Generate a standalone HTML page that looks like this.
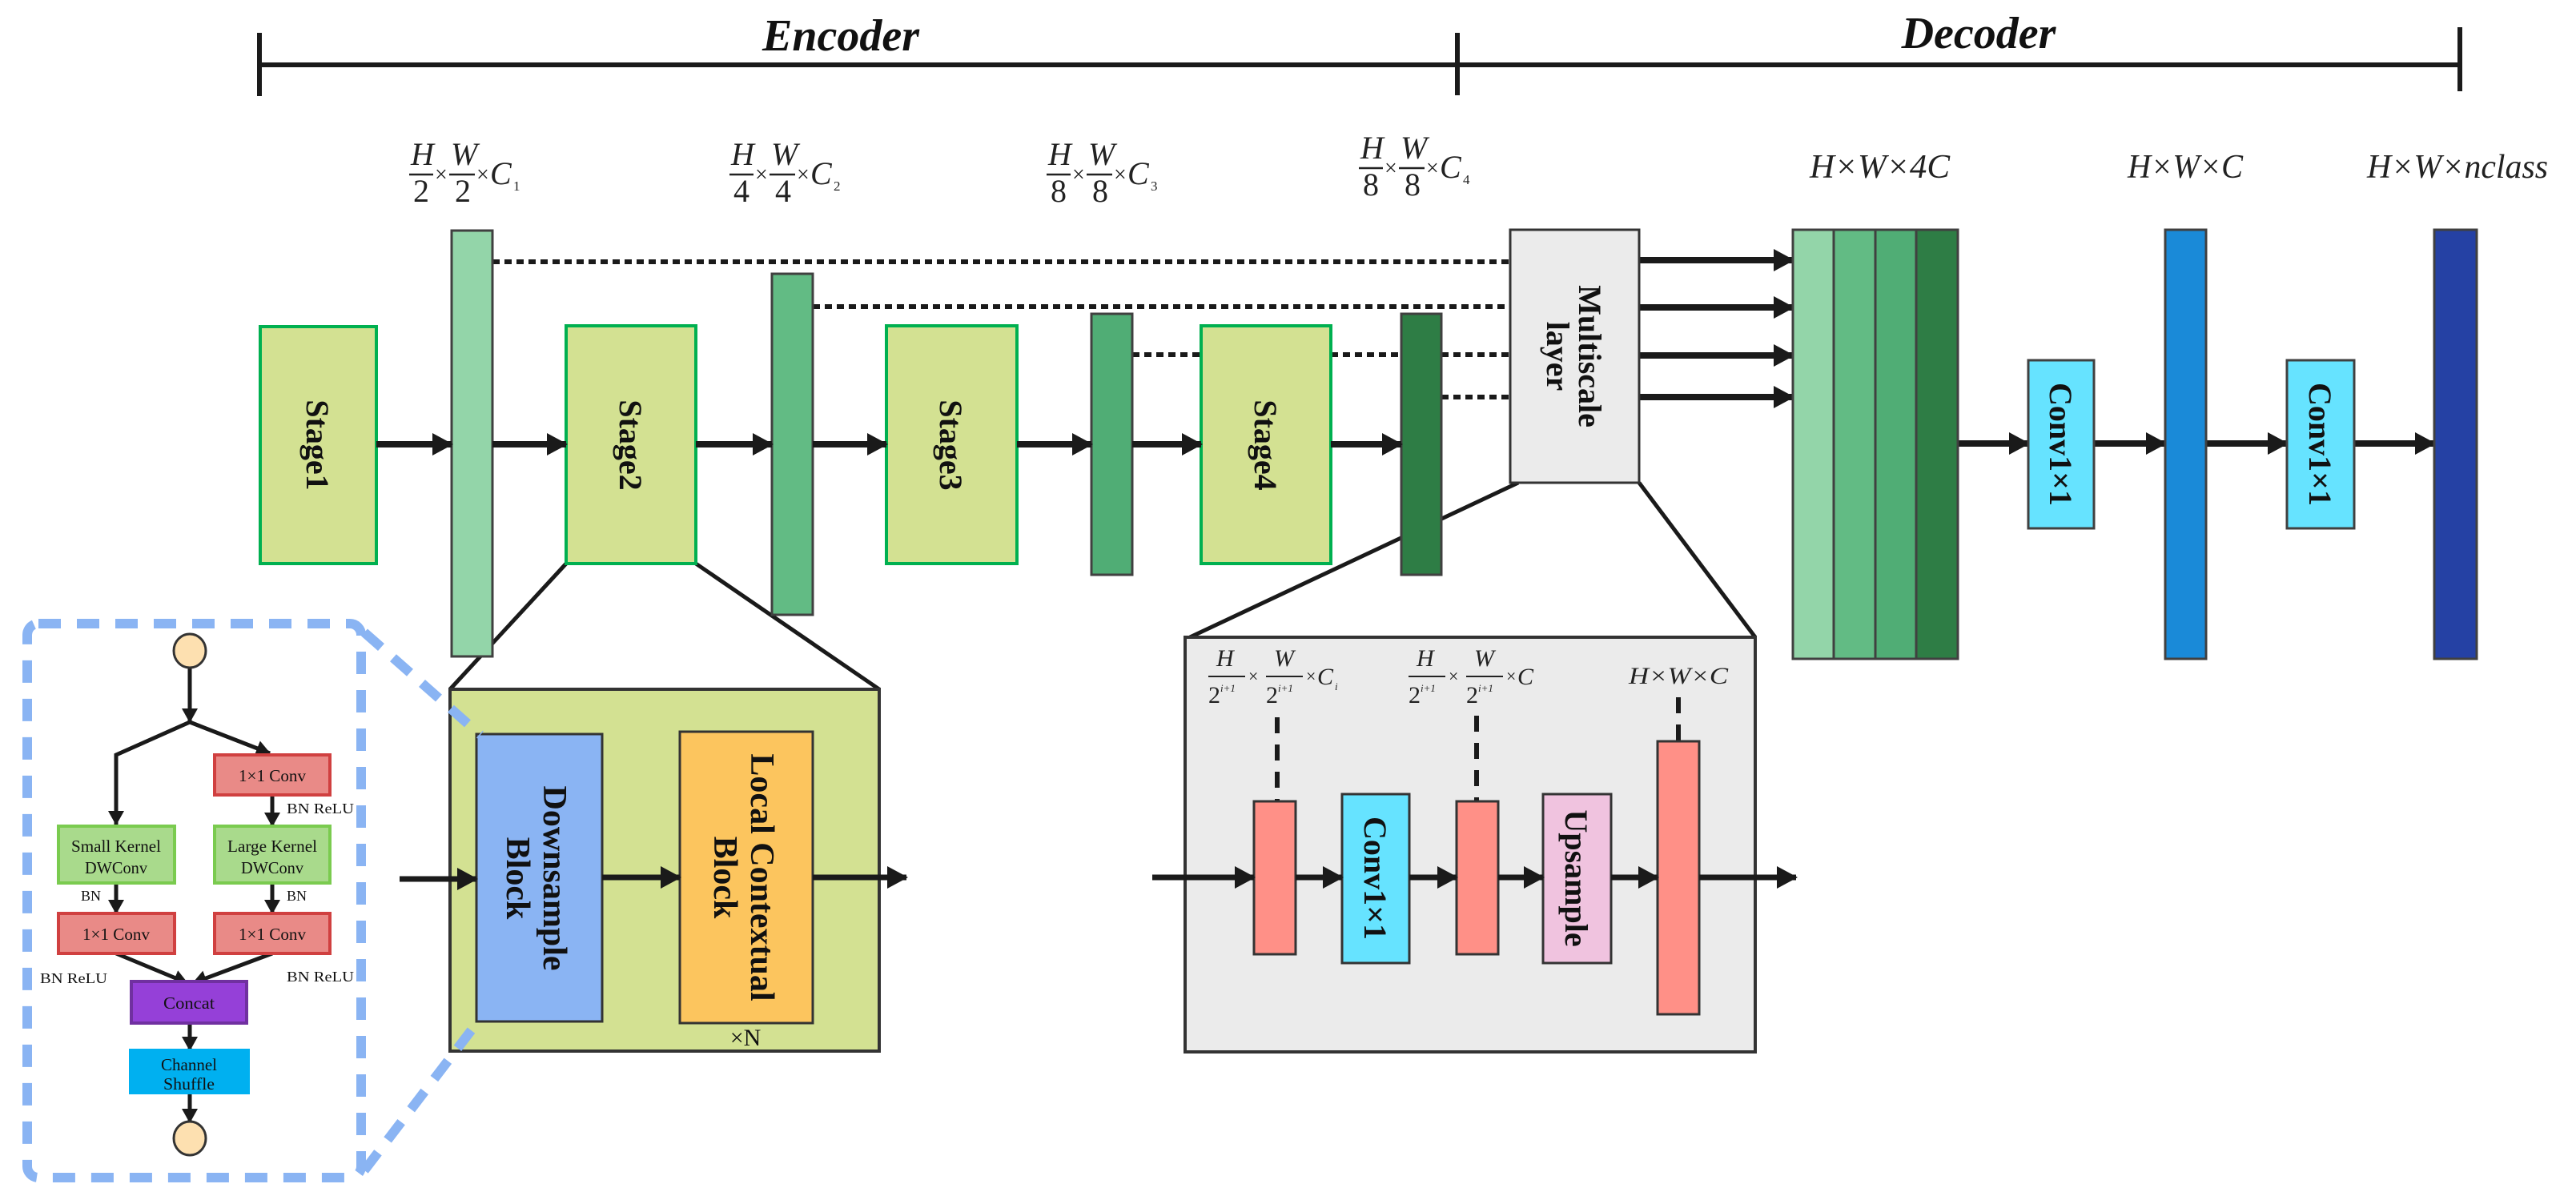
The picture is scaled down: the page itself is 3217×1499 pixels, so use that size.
<!DOCTYPE html>
<html><head><meta charset="utf-8"><style>
html,body{margin:0;padding:0;background:#fff;}
svg{display:block;}
text{font-family:"Liberation Serif",serif;}
.it{font-style:italic;}
.b{font-weight:bold;}
</style></head><body>
<svg width="3217" height="1499" viewBox="0 0 3217 1499" xmlns="http://www.w3.org/2000/svg">
<defs>
<marker id="ah" markerUnits="userSpaceOnUse" markerWidth="26" markerHeight="28" refX="24" refY="14" orient="auto"><polygon points="0,0 26,14 0,28" fill="#1a1a1a"/></marker>
<marker id="as" markerUnits="userSpaceOnUse" markerWidth="18" markerHeight="20" refX="17" refY="10" orient="auto"><polygon points="0,0 18,10 0,20" fill="#1a1a1a"/></marker>
</defs>

<g stroke="#1a1a1a" stroke-width="6">
<line x1="324" y1="81" x2="3072" y2="81"/>
<line x1="324" y1="41" x2="324" y2="120"/>
<line x1="1820" y1="41" x2="1820" y2="119"/>
<line x1="3072" y1="34" x2="3072" y2="114"/>
</g>
<text x="1050" y="63" font-size="56" class="it b" text-anchor="middle" fill="#111">Encoder</text>
<text x="2471" y="60" font-size="56" class="it b" text-anchor="middle" fill="#111">Decoder</text>

<g fill="#222" font-size="40">
<g transform="translate(511,0)">
<text x="2" y="206" class="it">H</text><line x1="0" y1="218" x2="30" y2="218" stroke="#222" stroke-width="2.5"/><text x="5" y="252">2</text>
<text x="32" y="227" font-size="28">×</text>
<text x="52" y="206" class="it">W</text><line x1="50" y1="218" x2="82" y2="218" stroke="#222" stroke-width="2.5"/><text x="57" y="252">2</text>
<text x="84" y="227" font-size="28">×</text><text x="101" y="230" class="it">C</text><text x="130" y="238" font-size="17">1</text></g>
<g transform="translate(911,0)">
<text x="2" y="206" class="it">H</text><line x1="0" y1="218" x2="30" y2="218" stroke="#222" stroke-width="2.5"/><text x="5" y="252">4</text>
<text x="32" y="227" font-size="28">×</text>
<text x="52" y="206" class="it">W</text><line x1="50" y1="218" x2="82" y2="218" stroke="#222" stroke-width="2.5"/><text x="57" y="252">4</text>
<text x="84" y="227" font-size="28">×</text><text x="101" y="230" class="it">C</text><text x="130" y="238" font-size="17">2</text></g>
<g transform="translate(1307,0)">
<text x="2" y="206" class="it">H</text><line x1="0" y1="218" x2="30" y2="218" stroke="#222" stroke-width="2.5"/><text x="5" y="252">8</text>
<text x="32" y="227" font-size="28">×</text>
<text x="52" y="206" class="it">W</text><line x1="50" y1="218" x2="82" y2="218" stroke="#222" stroke-width="2.5"/><text x="57" y="252">8</text>
<text x="84" y="227" font-size="28">×</text><text x="101" y="230" class="it">C</text><text x="130" y="238" font-size="17">3</text></g>
<g transform="translate(1697,-8)">
<text x="2" y="206" class="it">H</text><line x1="0" y1="218" x2="30" y2="218" stroke="#222" stroke-width="2.5"/><text x="5" y="252">8</text>
<text x="32" y="227" font-size="28">×</text>
<text x="52" y="206" class="it">W</text><line x1="50" y1="218" x2="82" y2="218" stroke="#222" stroke-width="2.5"/><text x="57" y="252">8</text>
<text x="84" y="227" font-size="28">×</text><text x="101" y="230" class="it">C</text><text x="130" y="238" font-size="17">4</text></g>
<text x="2260" y="222" font-size="42" class="it" textLength="175" lengthAdjust="spacingAndGlyphs">H×W×4C</text>
<text x="2657" y="222" font-size="42" class="it" textLength="144" lengthAdjust="spacingAndGlyphs">H×W×C</text>
<text x="2956" y="222" font-size="42" class="it" textLength="226" lengthAdjust="spacingAndGlyphs">H×W×nclass</text>
</g>

<g stroke="#1a1a1a" stroke-width="5" fill="none">
<line x1="707" y1="704" x2="562" y2="861"/>
<line x1="869" y1="704" x2="1098" y2="861"/>
<line x1="1896" y1="603" x2="1486" y2="796"/>
<line x1="2047" y1="603" x2="2192" y2="796"/>
</g>

<g stroke="#1a1a1a" stroke-width="6" stroke-dasharray="9 6">
<line x1="615" y1="327" x2="1886" y2="327"/>
<line x1="1015" y1="383" x2="1886" y2="383"/>
<line x1="1414" y1="443" x2="1500" y2="443"/>
<line x1="1662" y1="443" x2="1750" y2="443"/>
<line x1="1800" y1="443" x2="1886" y2="443"/>
<line x1="1800" y1="496" x2="1886" y2="496"/>
</g>

<g fill="#d3e192" stroke="#00b050" stroke-width="4">
<rect x="325" y="408" width="145" height="296"/>
<rect x="707" y="407" width="162" height="297"/>
<rect x="1107" y="407" width="163" height="297"/>
<rect x="1500" y="407" width="162" height="297"/>
</g>
<g font-size="40" class="b" fill="#111" text-anchor="middle">
<text transform="translate(397,556) rotate(90)" y="14">Stage1</text>
<text transform="translate(788,556) rotate(90)" y="14">Stage2</text>
<text transform="translate(1188,556) rotate(90)" y="14">Stage3</text>
<text transform="translate(1581,556) rotate(90)" y="14">Stage4</text>
</g>

<g stroke="#404040" stroke-width="3">
<rect x="564" y="288" width="51" height="532" fill="#93d5a9"/>
<rect x="964" y="342" width="51" height="426" fill="#62bb84"/>
<rect x="1363" y="392" width="51" height="326" fill="#50ad75"/>
<rect x="1750" y="392" width="50" height="326" fill="#2e7d45"/>
</g>

<g stroke="#1a1a1a" stroke-width="8" marker-end="url(#ah)">
<line x1="470" y1="555" x2="564" y2="555"/>
<line x1="615" y1="555" x2="707" y2="555"/>
<line x1="869" y1="555" x2="964" y2="555"/>
<line x1="1015" y1="555" x2="1107" y2="555"/>
<line x1="1270" y1="555" x2="1363" y2="555"/>
<line x1="1414" y1="555" x2="1500" y2="555"/>
<line x1="1662" y1="555" x2="1750" y2="555"/>
<line x1="2047" y1="325" x2="2239" y2="325"/>
<line x1="2047" y1="384" x2="2239" y2="384"/>
<line x1="2047" y1="444" x2="2239" y2="444"/>
<line x1="2047" y1="496" x2="2239" y2="496"/>
<line x1="2445" y1="554" x2="2533" y2="554"/>
<line x1="2615" y1="554" x2="2704" y2="554"/>
<line x1="2755" y1="554" x2="2856" y2="554"/>
<line x1="2940" y1="554" x2="3040" y2="554"/>
</g>

<rect x="1886" y="287" width="161" height="316" fill="#ebebeb" stroke="#333" stroke-width="3"/>
<g font-size="40" class="b" fill="#111" text-anchor="middle">
<text transform="translate(1966,445) rotate(90)" y="-6">Multiscale</text>
<text transform="translate(1966,445) rotate(90)" y="34">layer</text>
</g>

<g stroke="#404040" stroke-width="3">
<rect x="2239" y="287" width="51" height="536" fill="#93d5a9"/>
<rect x="2290" y="287" width="52" height="536" fill="#62bb84"/>
<rect x="2342" y="287" width="51" height="536" fill="#50ad75"/>
<rect x="2393" y="287" width="52" height="536" fill="#2e7d45"/>
<rect x="2533" y="450" width="82" height="210" fill="#66e3ff"/>
<rect x="2704" y="287" width="51" height="536" fill="#1a8ad8"/>
<rect x="2856" y="450" width="84" height="210" fill="#66e3ff"/>
<rect x="3040" y="287" width="53" height="536" fill="#2541a4"/>
</g>
<g font-size="40" class="b" fill="#111" text-anchor="middle">
<text transform="translate(2574,555) rotate(90)" y="14">Conv1×1</text>
<text transform="translate(2898,555) rotate(90)" y="14">Conv1×1</text>
</g>

<rect x="562" y="861" width="536" height="452" fill="#d3e192" stroke="#333" stroke-width="4"/>
<rect x="595" y="917" width="157" height="359" fill="#8ab4f3" stroke="#333" stroke-width="3"/>
<rect x="849" y="914" width="166" height="364" fill="#fcc55e" stroke="#333" stroke-width="3"/>
<g font-size="42" class="b" fill="#111" text-anchor="middle">
<text transform="translate(673,1097) rotate(90)" y="-6">Downsample</text>
<text transform="translate(673,1097) rotate(90)" y="40">Block</text>
<text transform="translate(932,1096) rotate(90)" y="-6">Local Contextual</text>
<text transform="translate(932,1096) rotate(90)" y="40">Block</text>
</g>
<text x="931" y="1306" font-size="30" fill="#111" text-anchor="middle">×N</text>
<g stroke="#1a1a1a" stroke-width="7" marker-end="url(#ah)">
<line x1="499" y1="1098" x2="595" y2="1098"/>
<line x1="752" y1="1096" x2="849" y2="1096"/>
<line x1="1015" y1="1096" x2="1132" y2="1096"/>
</g>

<rect x="34" y="779" width="417" height="692" rx="14" fill="none" stroke="#8ab4f3" stroke-width="12" stroke-dasharray="28 20"/>
<g stroke="#8ab4f3" stroke-width="12" stroke-dasharray="28 20" fill="none">
<line x1="455" y1="790" x2="600" y2="918"/>
<line x1="455" y1="1462" x2="600" y2="1272"/>
</g>

<g stroke="#1a1a1a" stroke-width="5" fill="none">
<line x1="237" y1="834" x2="237" y2="902" marker-end="url(#as)"/>
<polyline points="237,902 145,943 145,1030" marker-end="url(#as)"/>
<line x1="237" y1="902" x2="337" y2="941" marker-end="url(#as)"/>
<line x1="340" y1="993" x2="340" y2="1032" marker-end="url(#as)"/>
<line x1="145" y1="1103" x2="145" y2="1141" marker-end="url(#as)"/>
<line x1="340" y1="1103" x2="340" y2="1141" marker-end="url(#as)"/>
<line x1="145" y1="1191" x2="234" y2="1228" marker-end="url(#as)"/>
<line x1="340" y1="1191" x2="241" y2="1228" marker-end="url(#as)"/>
<line x1="237" y1="1278" x2="237" y2="1312" marker-end="url(#as)"/>
<line x1="237" y1="1365" x2="237" y2="1402" marker-end="url(#as)"/>
</g>
<ellipse cx="237" cy="813" rx="20" ry="21" fill="#fde0b0" stroke="#333" stroke-width="3"/>
<ellipse cx="237" cy="1422" rx="20" ry="21" fill="#fde0b0" stroke="#333" stroke-width="3"/>
<g stroke-width="4">
<rect x="268" y="943" width="144" height="50" fill="#e98a87" stroke="#d04040"/>
<rect x="73" y="1032" width="145" height="71" fill="#a9da8c" stroke="#7acb4f"/>
<rect x="268" y="1032" width="144" height="71" fill="#a9da8c" stroke="#7acb4f"/>
<rect x="73" y="1141" width="145" height="50" fill="#e98a87" stroke="#d04040"/>
<rect x="268" y="1141" width="144" height="50" fill="#e98a87" stroke="#d04040"/>
<rect x="164" y="1226" width="144" height="52" fill="#9540d8" stroke="#7030a0"/>
<rect x="163" y="1312" width="147" height="53" fill="#00b0f0" stroke="#00b0f0"/>
</g>
<g font-size="21" fill="#111" text-anchor="middle">
<text x="340" y="976" textLength="84" lengthAdjust="spacingAndGlyphs">1×1 Conv</text>
<text x="145" y="1064" textLength="112" lengthAdjust="spacingAndGlyphs">Small Kernel</text><text x="145" y="1091" textLength="78" lengthAdjust="spacingAndGlyphs">DWConv</text>
<text x="340" y="1064" textLength="112" lengthAdjust="spacingAndGlyphs">Large Kernel</text><text x="340" y="1091" textLength="78" lengthAdjust="spacingAndGlyphs">DWConv</text>
<text x="145" y="1174" textLength="84" lengthAdjust="spacingAndGlyphs">1×1 Conv</text>
<text x="340" y="1174" textLength="84" lengthAdjust="spacingAndGlyphs">1×1 Conv</text>
<text x="236" y="1260" textLength="64" lengthAdjust="spacingAndGlyphs">Concat</text>
<text x="236" y="1337" textLength="70" lengthAdjust="spacingAndGlyphs">Channel</text><text x="236" y="1361" textLength="64" lengthAdjust="spacingAndGlyphs">Shuffle</text>
</g>
<g font-size="18" fill="#111">
<text x="358" y="1016" textLength="84" lengthAdjust="spacingAndGlyphs">BN ReLU</text>
<text x="101" y="1125">BN</text>
<text x="358" y="1125">BN</text>
<text x="50" y="1228" textLength="84" lengthAdjust="spacingAndGlyphs">BN ReLU</text>
<text x="358" y="1226" textLength="84" lengthAdjust="spacingAndGlyphs">BN ReLU</text>
</g>

<rect x="1480" y="796" width="712" height="518" fill="#ebebeb" stroke="#333" stroke-width="4"/>
<g stroke="#1a1a1a" stroke-width="6" stroke-dasharray="20 14">
<line x1="1595" y1="896" x2="1595" y2="1001"/>
<line x1="1844" y1="894" x2="1844" y2="1001"/>
<line x1="2096" y1="871" x2="2096" y2="926"/>
</g>
<g stroke="#333" stroke-width="3">
<rect x="1566" y="1001" width="52" height="191" fill="#ff9087"/>
<rect x="1676" y="992" width="84" height="211" fill="#66e3ff"/>
<rect x="1819" y="1001" width="52" height="191" fill="#ff9087"/>
<rect x="1927" y="992" width="85" height="211" fill="#f0c3df"/>
<rect x="2070" y="926" width="52" height="341" fill="#ff9087"/>
</g>
<g font-size="40" class="b" fill="#111" text-anchor="middle">
<text transform="translate(1718,1097) rotate(90)" y="14">Conv1×1</text>
<text transform="translate(1969,1097) rotate(90)" y="14">Upsample</text>
</g>
<g stroke="#1a1a1a" stroke-width="7" marker-end="url(#ah)">
<line x1="1439" y1="1096" x2="1566" y2="1096"/>
<line x1="1618" y1="1096" x2="1676" y2="1096"/>
<line x1="1760" y1="1096" x2="1819" y2="1096"/>
<line x1="1871" y1="1096" x2="1927" y2="1096"/>
<line x1="2012" y1="1096" x2="2070" y2="1096"/>
<line x1="2122" y1="1096" x2="2243" y2="1096"/>
</g>
<g fill="#222" font-size="30">
<g transform="translate(1509,0)">
<text x="10" y="832" class="it">H</text><line x1="0" y1="845" x2="46" y2="845" stroke="#222" stroke-width="2"/><text x="0" y="878">2</text><text x="15" y="864" font-size="13" class="it">i+1</text>
<text x="50" y="852" font-size="22">×</text>
<text x="82" y="832" class="it">W</text><line x1="72" y1="845" x2="118" y2="845" stroke="#222" stroke-width="2"/><text x="72" y="878">2</text><text x="87" y="864" font-size="13" class="it">i+1</text>
<text x="122" y="852" font-size="22">×</text><text x="136" y="855" class="it">C</text><text x="158" y="862" font-size="13" class="it">i</text></g>
<g transform="translate(1759,0)">
<text x="10" y="832" class="it">H</text><line x1="0" y1="845" x2="46" y2="845" stroke="#222" stroke-width="2"/><text x="0" y="878">2</text><text x="15" y="864" font-size="13" class="it">i+1</text>
<text x="50" y="852" font-size="22">×</text>
<text x="82" y="832" class="it">W</text><line x1="72" y1="845" x2="118" y2="845" stroke="#222" stroke-width="2"/><text x="72" y="878">2</text><text x="87" y="864" font-size="13" class="it">i+1</text>
<text x="122" y="852" font-size="22">×</text><text x="136" y="855" class="it">C</text></g>
<text x="2034" y="854" class="it" textLength="124" lengthAdjust="spacingAndGlyphs">H×W×C</text>
</g>
</svg>
</body></html>
